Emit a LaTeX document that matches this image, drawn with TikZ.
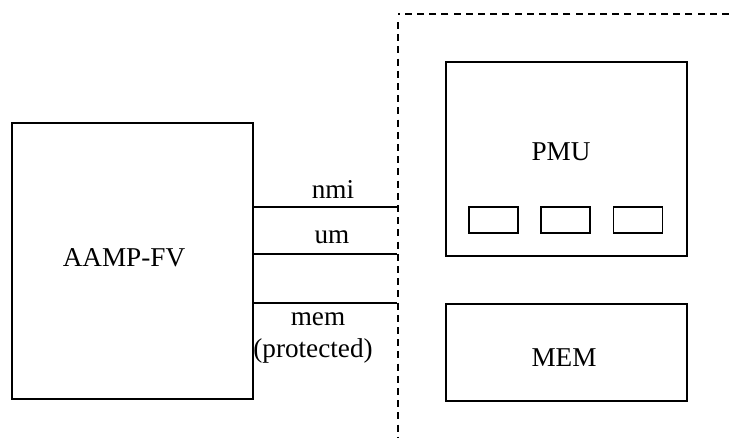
\documentclass[tikz,border=0pt]{standalone}
\usepackage{fontspec}
\setmainfont{Liberation Serif}
\usepackage{tikz}
\usetikzlibrary{
arrows.meta,
positioning,
calc
}
\tikzset{
sysblock/.style={draw=black, line width=0.9pt, inner sep=0pt},
regbox/.style={draw=black, line width=0.8pt, inner sep=0pt,
  minimum width=24.5pt, minimum height=13pt},
boxlabel/.style={inner sep=0pt, font=\fontsize{13.6}{16}\selectfont},
sigline/.style={draw=black, line width=0.8pt},
sigtext/.style={inner sep=0pt, font=\fontsize{13.6}{16}\selectfont, align=center},
boundary/.style={draw=black, line width=0.8pt, dash pattern=on 3.5pt off 2.6pt}
}

\begin{document}
\begin{tikzpicture}[x=0.5pt, y=-0.5pt]
\useasboundingbox (0,0) rectangle (729,446);

% processor and protected side
\node[sysblock, minimum width=120.5pt, minimum height=138pt] (aamp) at (132.5,261) {};
\node[boxlabel] (aamplbl) at (124,258) {AAMP-FV};

\node[sysblock, minimum width=120.5pt, minimum height=97pt] (pmu) at (566.5,159) {};
\node[boxlabel] (pmulbl) at (561,152) {PMU};
\node[regbox] (rega) at (493.5,220) {};
\node[regbox] (regb) at (565.5,220) {};
\node[regbox] (regc) at (638,220) {};

\node[sysblock, minimum width=120.5pt, minimum height=48.5pt] (mem) at (566.5,352.5) {};
\node[boxlabel] (memlbl) at (564,358) {MEM};

% boundary of the protected part
\coordinate (bdtop) at (398,14);
\draw[boundary] (729,14) -- (bdtop);
\draw[boundary] (398,22) -- (398,437);

% signals
\coordinate (nmiend) at (397,207);
\coordinate (umend) at (397,254);
\coordinate (memend) at (397,303);
\draw[sigline] (aamp.east |- nmiend) -- (nmiend);
\draw[sigline] (aamp.east |- umend) -- (umend);
\draw[sigline] (aamp.east |- memend) -- (memend);

\node[sigtext] (nmilbl) at (333,189) {nmi};
\node[sigtext] (umlbl) at (332,237) {um};
\node[sigtext] (memsig) at (318,319) {mem};
\node[sigtext] (protlbl) at (313,351) {(protected)};
\end{tikzpicture}
\end{document}
